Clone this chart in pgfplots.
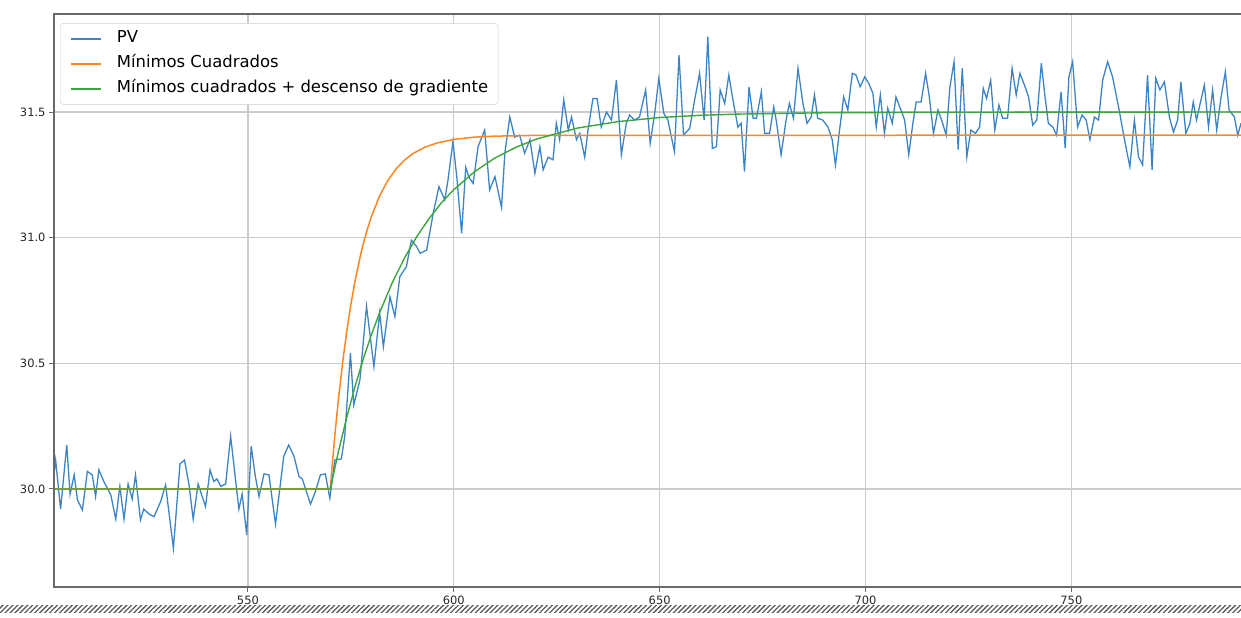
\documentclass[border=0pt]{standalone}
\usepackage{pgfplots}
\pgfplotsset{compat=1.18}
\usepackage{fontspec}
\setmainfont{DejaVu Sans}
\usetikzlibrary{patterns.meta}
\definecolor{pvblue}{RGB}{60,132,198}
\definecolor{fitorange}{RGB}{255,135,35}
\definecolor{fitgreen}{RGB}{60,165,60}
\definecolor{spine}{RGB}{105,105,105}
\begin{document}
\begin{tikzpicture}
\useasboundingbox (0,0) rectangle (1241bp,618bp);
\fill[pattern={Lines[angle=45,distance=3.5bp,line width=1.3bp]}, pattern color=black!65] (0,5bp) rectangle (1241bp,12bp);
\begin{axis}[
  name=ax,
  at={(54bp,31bp)}, anchor=south west,
  scale only axis, width=1187bp, height=573bp,
  xmin=502.9, xmax=791.2, ymin=29.61, ymax=31.89,
  axis line style={draw=none},
  xtick={550,600,650,700,750},
  ytick={30.0,30.5,31.0,31.5},
  xtick pos=left, ytick pos=left,
  tick align=outside, major tick length=5bp,
  tick style={spine, line width=1bp},
  grid=major, grid style={line width=1.2bp, draw=black!20},
  /pgf/number format/assume math mode=true,
  tick label style={font=\fontsize{11.5}{13}\selectfont, text=black!85},
  yticklabel style={/pgf/number format/fixed, /pgf/number format/fixed zerofill, /pgf/number format/precision=1},
  xticklabel style={/pgf/number format/1000 sep={}},
  legend style={at={(0.0051,0.984)}, anchor=north west, draw=black!20, fill=white, rounded corners=3bp,
    inner xsep=10bp, inner ysep=7bp, font=\fontsize{16.5}{18}\selectfont,
    row sep=8bp, column sep=15bp, nodes={inner sep=0bp, text height=12.5bp, text depth=4.5bp}},
  legend cell align=left,
  legend image code/.code={\draw[#1, line width=1.6bp, sharp corners] (0bp,0bp) -- (30bp,0bp);},
]
\addplot[color=pvblue, line width=1.3bp] coordinates {
(502.9,30.06) (503.3,30.115) (504.5,29.92) (506.0,30.175) (506.8,29.98) (507.8,30.056) (508.6,29.956)
(509.8,29.916) (511.0,30.07) (512.2,30.056) (513.0,29.97) (513.8,30.076) (515.0,30.03) (516.7,29.976)
(517.9,29.88) (518.9,30.01) (519.9,29.88) (520.9,30.02) (521.9,29.96) (522.7,30.056) (523.9,29.877)
(524.7,29.92) (526.0,29.90) (527.2,29.89) (528.8,29.95) (530.0,30.016) (531.9,29.764) (533.5,30.10)
(534.6,30.115) (535.7,30.016) (536.7,29.88) (537.9,30.02) (539.7,29.93) (540.8,30.076) (541.7,30.03)
(542.5,30.04) (543.4,30.01) (544.6,30.02) (545.8,30.21) (547.0,30.036) (547.8,29.92) (548.6,29.98)
(549.7,29.817) (550.8,30.17) (551.8,30.05) (552.7,29.97) (553.9,30.06) (555.1,30.056) (556.7,29.86)
(558.7,30.13) (559.9,30.175) (561.2,30.13) (562.4,30.05) (563.2,30.04) (565.2,29.94) (566.4,29.99)
(567.6,30.056) (568.8,30.06) (569.9,29.963) (571.1,30.115) (572.7,30.12) (573.5,30.208) (574.9,30.54)
(575.7,30.334) (577.2,30.434) (578.8,30.727) (580.6,30.487) (582.0,30.70) (582.9,30.566) (584.5,30.765)
(585.7,30.686) (586.9,30.845) (588.5,30.885) (589.7,30.99) (591.0,30.964) (591.8,30.938) (593.4,30.95)
(595.0,31.097) (596.4,31.203) (597.8,31.15) (598.6,31.23) (599.8,31.382) (600.8,31.23) (601.9,31.017)
(602.9,31.28) (603.7,31.24) (604.7,31.216) (605.9,31.362) (607.5,31.428) (608.7,31.19) (610.0,31.243)
(611.6,31.12) (612.4,31.336) (613.6,31.48) (614.8,31.40) (616.0,31.408) (617.2,31.336) (618.5,31.39)
(619.7,31.256) (620.9,31.362) (621.7,31.27) (622.9,31.32) (624.1,31.31) (624.9,31.455) (625.7,31.39)
(626.7,31.548) (627.8,31.428) (628.6,31.48) (629.8,31.39) (630.6,31.415) (631.8,31.32) (632.6,31.428)
(633.8,31.554) (634.8,31.554) (635.8,31.44) (637.1,31.50) (638.3,31.468) (639.5,31.627) (640.7,31.33)
(641.9,31.455) (642.7,31.488) (643.9,31.468) (645.1,31.48) (646.6,31.588) (647.7,31.375) (648.8,31.495)
(649.8,31.634) (651.0,31.495) (652.0,31.468) (653.6,31.342) (654.7,31.727) (655.8,31.408) (657.3,31.435)
(658.5,31.548) (659.7,31.654) (660.8,31.468) (661.7,31.80) (662.8,31.355) (663.8,31.362) (664.7,31.588)
(665.8,31.534) (666.8,31.647) (667.8,31.548) (669.0,31.44) (669.8,31.455) (670.6,31.263) (671.7,31.60)
(672.7,31.475) (673.5,31.475) (674.7,31.58) (675.5,31.415) (676.7,31.415) (677.7,31.52) (678.3,31.468)
(679.5,31.33) (680.7,31.468) (681.5,31.534) (682.5,31.475) (683.6,31.674) (684.8,31.534) (685.8,31.455)
(686.8,31.48) (687.6,31.568) (688.4,31.475) (689.6,31.468) (690.9,31.44) (691.9,31.39) (692.7,31.289)
(693.7,31.428) (694.7,31.56) (695.7,31.508) (696.8,31.654) (697.7,31.647) (698.7,31.60) (699.8,31.64)
(700.8,31.614) (701.8,31.574) (702.6,31.44) (703.6,31.568) (704.6,31.415) (705.4,31.515) (706.5,31.455)
(707.4,31.56) (708.6,31.508) (709.5,31.468) (710.5,31.33) (711.5,31.455) (712.3,31.54) (713.5,31.54)
(714.6,31.654) (715.5,31.56) (716.5,31.415) (717.6,31.508) (718.6,31.462) (719.6,31.408) (720.5,31.60)
(721.5,31.70) (722.5,31.35) (723.5,31.674) (724.6,31.322) (725.6,31.428) (726.7,31.415) (727.7,31.44)
(728.6,31.594) (729.4,31.554) (730.4,31.627) (731.4,31.428) (732.4,31.528) (733.3,31.475) (734.5,31.475)
(735.6,31.674) (736.6,31.568) (737.5,31.654) (738.6,31.607) (739.6,31.56) (740.6,31.448) (741.6,31.468)
(742.7,31.694) (743.6,31.56) (744.4,31.455) (745.5,31.44) (746.4,31.408) (747.5,31.58) (748.5,31.355)
(749.4,31.64) (750.3,31.70) (751.5,31.44) (752.6,31.488) (753.6,31.468) (754.5,31.39) (755.6,31.48)
(756.6,31.468) (757.6,31.627) (758.8,31.70) (760.0,31.64) (761.6,31.508) (762.9,31.39) (764.2,31.282)
(765.3,31.468) (766.3,31.322) (767.3,31.289) (768.5,31.647) (769.6,31.27) (770.5,31.634) (771.5,31.588)
(772.6,31.62) (773.8,31.48) (774.8,31.42) (775.8,31.468) (776.6,31.62) (777.8,31.415) (778.8,31.455)
(779.6,31.54) (780.4,31.468) (781.2,31.528) (782.3,31.607) (783.3,31.44) (784.3,31.588) (785.3,31.428)
(786.3,31.554) (787.4,31.66) (788.3,31.508) (789.6,31.48) (790.4,31.408) (791.2,31.455)
};
\addlegendentry{PV}
\addplot[color=fitorange, line width=1.5bp] coordinates {
(502.9,30.0) (570,30.0) (570.5,30.100) (571,30.193) (571.5,30.279) (572,30.359) (573,30.503) (574,30.627)
(575,30.734) (576,30.825) (577,30.905) (578,30.975) (579,31.033) (580,31.084) (582,31.167) (584,31.228)
(586,31.274) (588,31.308) (590,31.334) (593,31.360) (596,31.377) (600,31.391) (605,31.400) (610,31.404)
(620,31.407) (791.2,31.408)
};
\addlegendentry{Mínimos Cuadrados}
\addplot[color=fitgreen, line width=1.4bp] coordinates {
(502.9,30.0) (570,30.0) (572,30.150) (574,30.285) (576,30.407) (578,30.516) (580,30.614) (582,30.702)
(585,30.819) (588,30.918) (591,31.004) (594,31.076) (597,31.139) (600,31.191) (605,31.262) (610,31.317)
(615,31.359) (620,31.392) (630,31.436) (640,31.462) (650,31.478) (660,31.487) (670,31.492) (690,31.497)
(720,31.499) (791.2,31.500)
};
\addlegendentry{Mínimos cuadrados + descenso de gradiente}
\end{axis}
\draw[spine, line width=2.5bp] (ax.south east) -- (ax.south west) -- (ax.north west) -- (ax.north east);
\end{tikzpicture}
\end{document}
